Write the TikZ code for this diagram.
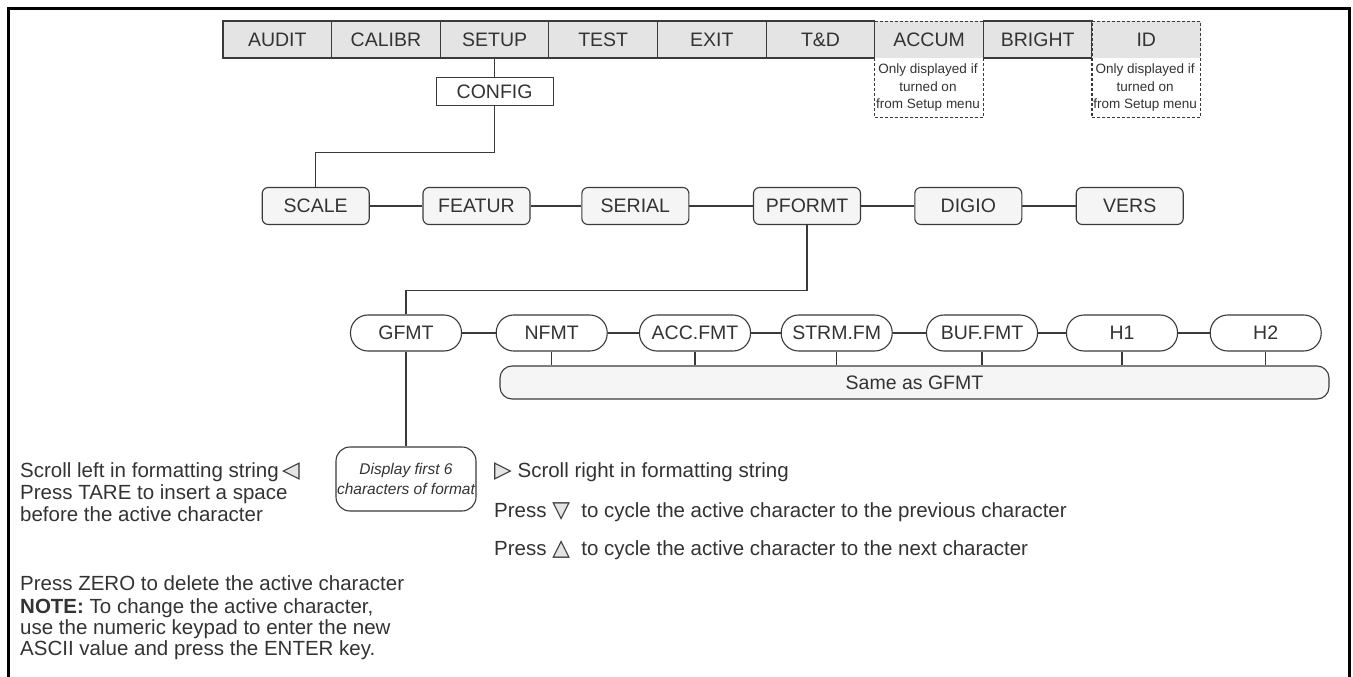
\documentclass[tikz,border=0pt]{standalone}
\usepackage{fontspec}
\setmainfont{Liberation Sans}
\newfontfamily\symfont{DejaVu Sans}
\definecolor{ink}{HTML}{333333}
\definecolor{wire}{HTML}{3A3A3A}
\definecolor{menufill}{HTML}{E4E4E4}
\definecolor{boxfill}{HTML}{F5F5F5}
\newcommand\tridownsym{{\symfont\fontsize{23}{20}\selectfont\rlap{\textcolor{menufill}{▼}}▽}}
\newcommand\triupsym{{\symfont\fontsize{23}{20}\selectfont\rlap{\textcolor{menufill}{▲}}△}}
\newcommand\trileftsym{{\symfont\fontsize{23}{20}\selectfont\rlap{\textcolor{menufill}{◀}}◁}}
\newcommand\trirightsym{{\symfont\fontsize{23}{20}\selectfont\rlap{\textcolor{menufill}{▶}}▷}}
\tikzset{
  lbl/.style={font=\fontsize{19.5}{22}\selectfont, text=ink, inner sep=0pt},
  menu/.style={lbl, draw=wire, fill=menufill, line width=1.1pt, minimum width=108.6pt, minimum height=37pt},
  optfill/.style={lbl, fill=menufill, minimum width=108.6pt, minimum height=37pt},
  optbox/.style={draw=wire, line width=1.1pt, dash pattern=on 3pt off 2pt, minimum width=108.6pt, minimum height=96pt, inner sep=0pt, anchor=north},
  notetxt/.style={font=\fontsize{13.5}{17.5}\selectfont, text=ink, align=center, inner sep=0pt},
  cfgbox/.style={lbl, draw=wire, fill=white, line width=1.1pt, minimum width=117pt, minimum height=28.5pt},
  rbox/.style={lbl, draw=wire, fill=boxfill, line width=1.1pt, rounded corners=6pt, minimum width=107pt, minimum height=37pt},
  obox/.style={lbl, draw=wire, fill=white, line width=1.1pt, rounded corners=17.5pt, minimum width=111pt, minimum height=36pt},
  barbox/.style={lbl, draw=wire, fill=boxfill, line width=1.1pt, rounded corners=12pt, minimum width=829pt, minimum height=33pt},
  dispbox/.style={draw=wire, fill=white, line width=1.1pt, rounded corners=14pt, minimum width=140pt, minimum height=64pt, inner sep=0pt, align=center, text=ink, font=\fontsize{15.5}{20}\selectfont\itshape},
  body/.style={font=\fontsize{20.5}{22}\selectfont, text=ink, inner sep=0pt, anchor=base west},
  conn/.style={draw=wire, line width=1.1pt},
  frame/.style={draw=black, line width=2.6pt}
}
\begin{document}
\begin{tikzpicture}[x=1pt,y=-1pt]
\useasboundingbox (0,0) rectangle (1353,677);
% outer frame
\draw[frame] (8.5,677) -- (8.5,8.5) -- (1349.5,8.5) -- (1349.5,677);

% top menu
\node[menu] (audit)  at (277.3,39.5) {AUDIT};
\node[menu] (calibr) at (385.9,39.5) {CALIBR};
\node[menu] (setup)  at (494.6,39.5) {SETUP};
\node[menu] (test)   at (603.2,39.5) {TEST};
\node[menu] (exit)   at (711.9,39.5) {EXIT};
\node[menu] (td)     at (820.5,39.5) {T\&D};
\node[optfill] (accum) at (929.1,39.5) {ACCUM};
\node[optbox] (accumbox) at (accum.north) {};
\node[notetxt] (accumnote) at (928,88) {Only displayed if\\turned on\\from Setup menu};
\node[menu] (bright) at (1037.7,39.5) {BRIGHT};
\node[optfill] (id) at (1146.3,39.5) {ID};
\node[optbox] (idbox) at (id.north) {};
\node[notetxt] (idnote) at (1145.2,88) {Only displayed if\\turned on\\from Setup menu};

% config
\node[cfgbox] (config) at (494.6,91.5) {CONFIG};
\draw[conn] (setup.south) -- (config.north);

% second row
\node[rbox] (scale)  at (315.7,206) {SCALE};
\node[rbox] (featur) at (476.5,206) {FEATUR};
\node[rbox] (serial) at (635.4,206) {SERIAL};
\node[rbox] (pformt) at (807,206) {PFORMT};
\node[rbox] (digio)  at (968.3,206) {DIGIO};
\node[rbox] (vers)   at (1129.7,206) {VERS};
\draw[conn] (config.south) -- ++(0,46) -| (scale.north);
\draw[conn] (scale) -- (featur);
\draw[conn] (featur) -- (serial);
\draw[conn] (serial) -- (pformt);
\draw[conn] (pformt) -- (digio);
\draw[conn] (digio) -- (vers);

% third row
\node[obox] (gfmt)  at (406,333) {GFMT};
\node[obox] (nfmt)  at (551.7,333) {NFMT};
\node[obox] (accf)  at (695,333) {ACC.FMT};
\node[obox] (strm)  at (836.7,333) {STRM.FM};
\node[obox] (buff)  at (982,333) {BUF.FMT};
\node[obox] (hone)  at (1122,333) {H1};
\node[obox] (htwo)  at (1265.7,333) {H2};
\draw[conn] (pformt.south) -- ++(0,65) -| (gfmt.north);
\draw[conn] (gfmt) -- (nfmt);
\draw[conn] (nfmt) -- (accf);
\draw[conn] (accf) -- (strm);
\draw[conn] (strm) -- (buff);
\draw[conn] (buff) -- (hone);
\draw[conn] (hone) -- (htwo);

\node[barbox] (same) at (914.5,382.5) {Same as GFMT};
\foreach \n in {nfmt,accf,strm,buff,hone,htwo}
  \draw[conn] (\n.south) -- (\n.south |- same.north);

% display box
\node[dispbox] (disp) at (406,479) {Display first 6\\characters of format};
\draw[conn] (gfmt.south) -- (disp.north);

% left texts
\node[body] (scrl) at (20,477) {Scroll left in formatting string\,\trileftsym};
\node[body] (tare1) at (20,499) {Press TARE to insert a space};
\node[body] (tare2) at (20,521) {before the active character};
\node[body] (zero) at (20,590) {Press ZERO to delete the active character};
\node[body] (note1) at (20,613) {\textbf{NOTE:} To change the active character,};
\node[body] (note2) at (20,634) {use the numeric keypad to enter the new};
\node[body] (note3) at (20,655) {ASCII value and press the ENTER key.};

% right texts
\node[body] (scrr) at (494,477) {\trirightsym\ Scroll right in formatting string};
\node[body] (down) at (494,517) {Press \tridownsym\ \ to cycle the active character to the previous character};
\node[body] (up) at (494,555) {Press \triupsym\ \ to cycle the active character to the next character};
\end{tikzpicture}
\end{document}
